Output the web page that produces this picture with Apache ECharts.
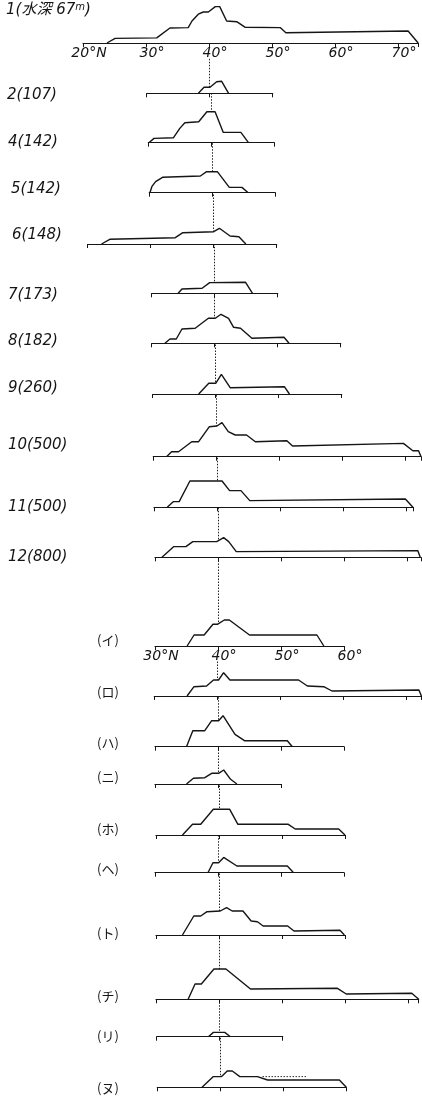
<!DOCTYPE html>
<html>
<head>
<meta charset="utf-8">
<script src="https://cdn.jsdelivr.net/npm/echarts@6/dist/echarts.min.js"></script>
<style>
html,body{margin:0;padding:0;background:#fff;}
#c{width:422px;height:1099px;}
</style>
</head>
<body>
<div id="c"></div>
<script>
// ---- data: profiles as [latitude (°N), relative height] ----
const p1  = [[23.8,0],[25.1,4.6],[31.7,5.1],[33.8,15],[36.7,15.4],[37.3,22],[38.3,28.8],[39.1,31],[39.9,31],[41,36.4],[41.7,36.4],[42.8,22],[44.4,21.3],[45.7,15.8],[51.3,15.4],[52.2,10.3],[71.6,12],[73.2,0]];
const p2  = [[38.2,0],[39.1,6],[40.05,6],[41.1,11.5],[41.9,12],[43.0,0]];
const p4  = [[30.1,0],[30.9,4.3],[34,5],[35,14.3],[35.8,20],[38,21],[39.3,31],[40.6,31],[41.9,10.3],[44.7,10.3],[45.9,0]];
const p5  = [[30.1,0],[30.4,6],[31,11],[32.1,15.4],[38.1,16.7],[39.1,21],[40.8,21],[42.7,5.3],[44.7,5.3],[45.7,0]];
const p6  = [[22.2,0],[23.5,4.7],[33.9,6.3],[35.1,11.3],[40,12.3],[40.9,15.7],[42.6,8],[44,7.3],[45.1,0]];
const p7  = [[34.2,0],[34.8,4.3],[38,5],[39.2,10.7],[44.9,11],[46,0]];
const p8  = [[32.1,0],[32.9,4.3],[33.9,4.3],[34.8,14.3],[36.9,15],[39,25],[40.1,25],[41,29],[42.2,25],[43,16],[44.1,15],[45.9,5],[51,6],[51.8,0]];
const p9  = [[37.3,0],[38.9,10.7],[40,10.7],[40.9,19.7],[42.3,6.3],[50.9,7.3],[51.7,0]];
const p10 = [[32.1,0],[32.9,5],[34,5],[36.1,15],[37.2,15],[38.9,30],[40.1,30.7],[40.9,34],[41.9,25],[43,21.7],[44.8,21.7],[46.2,15],[51.2,16],[52.1,10.7],[69.7,13.3],[71.2,6],[72.1,6],[72.5,0]];
const p11 = [[32.1,0],[33.1,5.7],[34,5.7],[35.7,26.3],[40.8,26.3],[42,16.7],[43.8,16.7],[45.2,6.7],[69.9,8.3],[71.1,0]];
const p12 = [[31.1,0],[33,10.7],[34.9,10.7],[36,15.7],[39.8,15.7],[40.9,19.7],[41.7,15.7],[42.9,5.7],[71.7,6.7],[72.1,0]];
const pI  = [[35.1,0],[36.2,11],[37.8,11],[39.2,21.7],[39.9,21.7],[41,26],[41.8,26],[45,11],[55.7,11],[56.8,0]];
const pRo = [[35.2,0],[36.3,9.3],[38.3,10],[39.4,16],[40.2,16],[41,23.3],[42,16],[52.9,16],[54.3,10],[56.9,9.3],[58.2,5],[72.0,6],[72.4,0]];
const pHa = [[35,0],[36,16],[37.9,16],[39,26],[40.1,26],[40.8,31],[42.7,12.3],[44.2,6],[51,6],[51.8,0]];
const pNi = [[35,0],[36.1,5.7],[37.9,6.3],[39,10.7],[40.1,10.7],[40.9,14],[42,4.7],[43,0]];
const pHo = [[34.2,0],[35.8,10.7],[37.1,10.7],[39.1,25.7],[41.7,25.7],[43,10.7],[51,10.7],[52.1,6],[59,6],[60,0]];
const pHe = [[38.4,0],[39.2,10],[40.1,10],[40.9,15.3],[43,6.7],[51,6.7],[52,0]];
const pTo = [[34.2,0],[36,19],[37.1,19],[38.1,23.3],[40.2,24],[41.2,27.3],[42.1,24],[43.8,24],[45.1,14],[46.1,13.3],[47,9],[50.9,9],[51.9,4],[59.2,4.7],[59.9,0]];
const pChi= [[35.1,0],[36.2,15.3],[37.2,15.3],[39.2,30.3],[41.1,30.3],[45,10.3],[58.8,11],[60.2,5.3],[70.6,6],[71.7,0]];
const pRi = [[38.2,0],[39,4.3],[40.8,4.3],[41.7,0]];
const pNu = [[37.1,0],[38.9,10.7],[40.2,10.7],[41.1,16.3],[41.9,16.3],[43.1,10.7],[45.9,10.7],[47.5,7.3],[58.9,7.3],[60,0]];
const pNuDot = [[46.7,10.7],[53.6,10.7]];
const refLat = 40;

// panel names (labels)
const names = ['1(水深 67', '2(107)', '4(142)', '5(142)', '6(148)', '7(173)', '8(182)', '9(260)', '10(500)', '11(500)', '12(800)',
  '(イ)', '(ロ)', '(ハ)', '(ニ)', '(ホ)', '(ヘ)', '(ト)', '(チ)', '(リ)', '(ヌ)'];
const profiles = [p1,p2,p4,p5,p6,p7,p8,p9,p10,p11,p12,pI,pRo,pHa,pNi,pHo,pHe,pTo,pChi,pRi,pNu];
// axis ranges (°N)
const axMin = [20,30,30,30,20,30,30,30,30,30,30, 30,30,30,30,30,30,30,30,30,30];
const axMax = [73.2,50,50,50,50,50,60,60,72.5,71.2,72.2, 60,72.4,60,50,60,60,60,71.7,50,60];

// ---- layout (pixels) ----
const pxPerDeg = 6.3;
const left   = [83,146.7,148.3,149.3,87.7,151.7,151.7,152.7,153.3,154,155, 155,154.3,155,155,156,155,156,156,156.7,157.3];
const base   = [43,93.3,142.7,192.7,244,293.3,343.3,394,456.7,507.3,557.3, 646,696,746.7,784,835,872.7,935,999.3,1036.7,1087.3];
const topY   = [0,58,93.3,142.7,192.7,244,293.3,343.3,394,456.7,507.3, 557.3,661,696,746.7,784,835,872.7,935,999.3,1036.7];
const labY   = [10,95,141.7,189,235,295,340.7,388,445,506.7,556.7, 640,691.7,742.7,776.7,829,869.3,933,996,1036,1088];
const labX   = [6,7,8,11,12,8,8,8,8,8,8, 97,97,97,97,97,97,97,97,97,97];

const grids = [], xAxes = [], yAxes = [], series = [], titles = [];
const ink = '#151515';
const labelAxes = [0, 11];
const latin = 'DejaVu Sans';

profiles.forEach((d, i) => {
  const h = base[i] - topY[i];
  grids.push({left: left[i], top: topY[i], width: (axMax[i]-axMin[i])*pxPerDeg, height: h,
              containLabel: false, outerBoundsMode: 'none'});
  const mn = axMin[i];
  xAxes.push({
    type: 'value', gridIndex: i, min: mn, max: axMax[i], interval: 10, z: 10,
    axisLine: {show: true, lineStyle: {color: ink, width: 1.2}},
    axisTick: {show: true, length: 4, lineStyle: {color: ink, width: 1}},
    splitLine: {show: false},
    axisLabel: {
      show: labelAxes.includes(i), margin: 3, color: ink, fontSize: 14, fontStyle: 'italic',
      fontFamily: latin, padding: [0,0,0,12],
      formatter: v => (Math.abs(v % 10) < 1e-6 ? (v === mn ? v + '°N' : v + '°') : '')
    }
  });
  yAxes.push({type: 'value', gridIndex: i, min: 0, max: h, show: false});
  if (i > 0) {
    series.push({
      type: 'line', xAxisIndex: i, yAxisIndex: i, data: [], z: 1, silent: true,
      markLine: {silent: true, z: 1, symbol: 'none', label: {show: false},
        lineStyle: {type: [1.5, 1.5], color: '#222', width: 1},
        data: [{xAxis: refLat}], animation: false}
    });
  }
  series.push({
    type: 'line', xAxisIndex: i, yAxisIndex: i, data: d, z: 3, symbol: 'none', silent: true,
    lineStyle: {color: ink, width: 1.4}, areaStyle: {color: '#fff', opacity: 1}
  });
  const jp = i >= 11;
  titles.push({
    text: i === 0 ? '{a|' + names[0] + '}{s|m}{a|)}' : names[i],
    left: labX[i], top: labY[i] - 8, padding: 0,
    textStyle: jp
      ? {fontSize: 13, fontWeight: 'normal', color: ink, fontFamily: 'Noto Sans CJK JP', lineHeight: 16}
      : {fontSize: 15, fontWeight: 'normal', fontStyle: 'italic', color: ink, fontFamily: latin, lineHeight: 16,
         rich: {a: {fontSize: 15, fontStyle: 'italic', color: ink, fontFamily: latin + ', Noto Sans CJK JP', lineHeight: 16},
                s: {fontSize: 10, fontStyle: 'italic', color: ink, fontFamily: latin, verticalAlign: 'top', lineHeight: 10, padding: [0,0,6,0]}}}
  });
});
// dotted segment in (ヌ)
series.push({type: 'line', xAxisIndex: 20, yAxisIndex: 20, data: pNuDot, z: 4, symbol: 'none', silent: true,
  lineStyle: {color: '#333', width: 1, type: [1.5, 1.5]}});

const chart = echarts.init(document.getElementById('c'), null, {renderer: 'canvas'});
chart.setOption({
  backgroundColor: '#fff', animation: false,
  title: titles, grid: grids, xAxis: xAxes, yAxis: yAxes, series: series
});
</script>
</body>
</html>
